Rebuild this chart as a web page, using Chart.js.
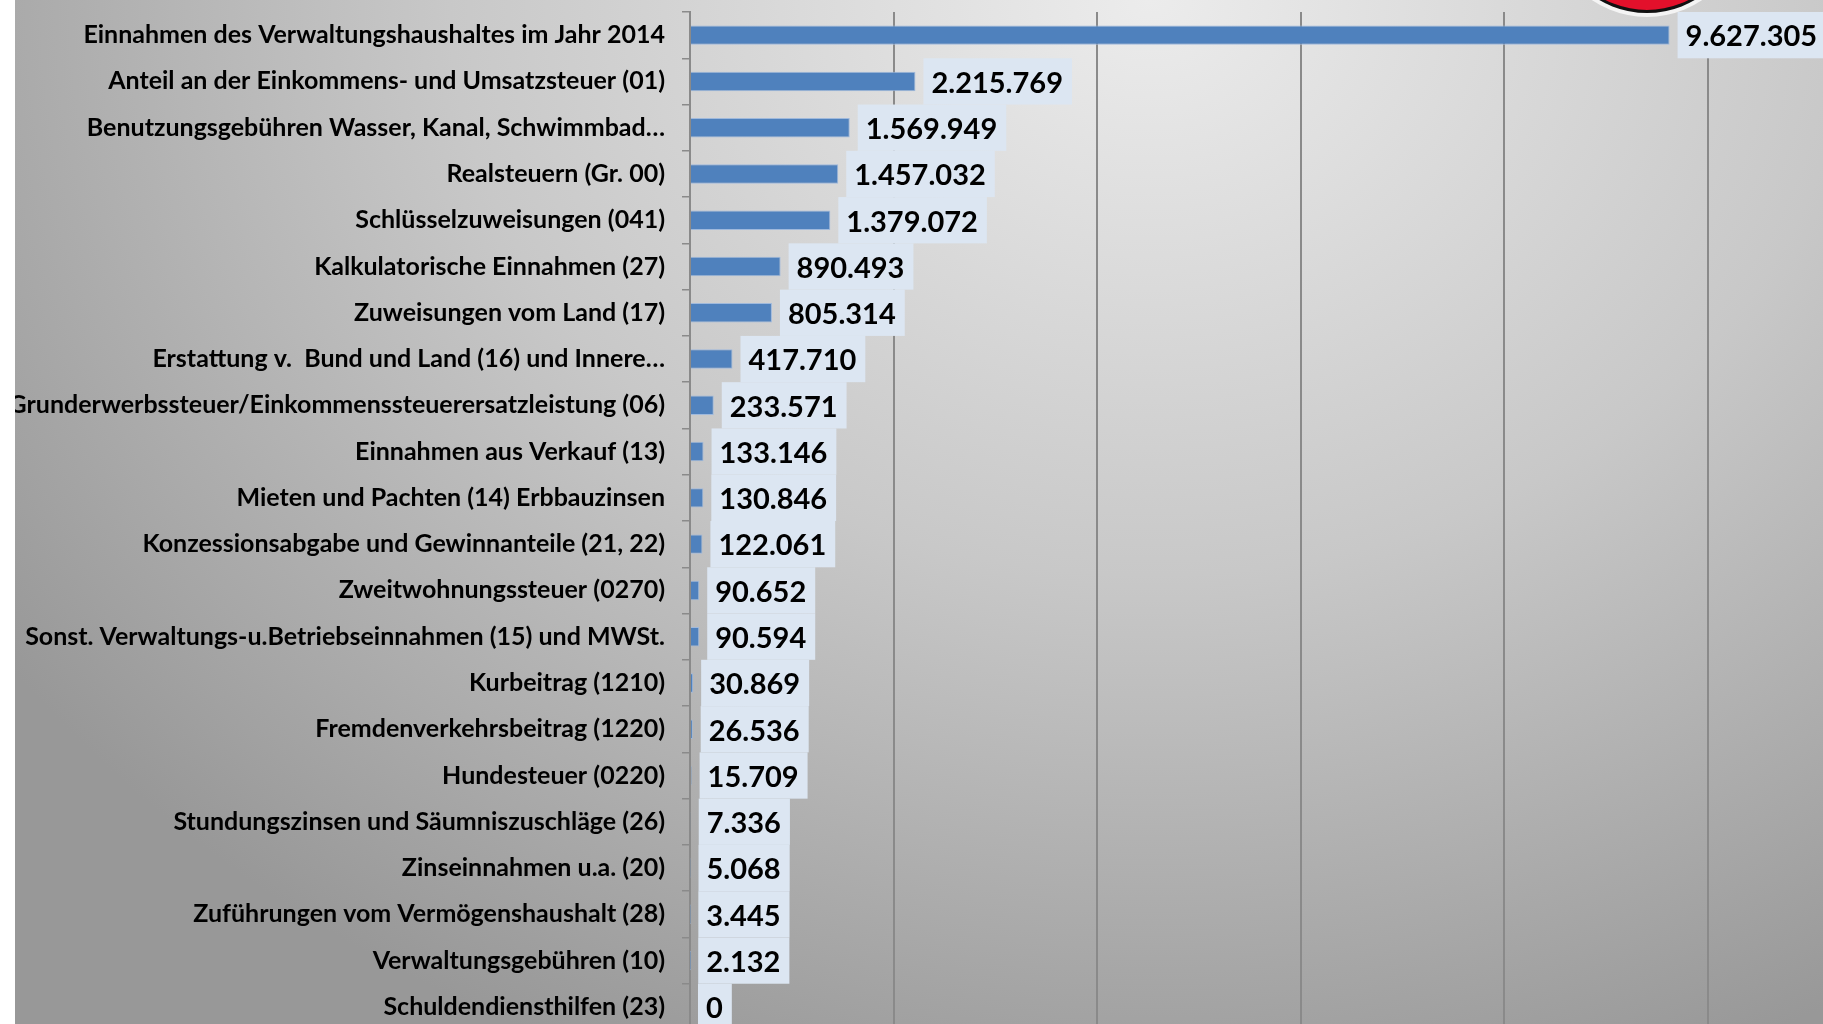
<!DOCTYPE html>
<html>
<head>
<meta charset="utf-8">
<script src="https://cdn.jsdelivr.net/npm/chart.js@4"></script>
<style>
  html, body { margin: 0; padding: 0; background: #fff; overflow: hidden; width: 1823px; height: 1024px; }
  #bg {
    position: absolute; left: 15px; top: 0; width: 1808px; height: 1024px; overflow: hidden;
    background: radial-gradient(ellipse 1400px 1150px at 1135px 0px, #ececec 0%, #c8c8c8 50%, #989898 100%);
  }
  #wrap { position: absolute; left: 0; top: 0; width: 2000px; height: 1100px; }
  #logo {
    position: absolute; left: 1553px; top: -175px; width: 182px; height: 182px; border-radius: 50%;
    background: #e3102b; border: 3px solid #111; box-shadow: 0 0 0 4px #f4f4f4; z-index: 5;
  }
</style>
</head>
<body>
<div id="bg">
  <div id="wrap"><canvas id="chart" width="2000" height="1100"></canvas></div>
</div>
<div id="logo"></div>
<script>
const categories = [
  "Einnahmen des Verwaltungshaushaltes im Jahr 2014",
  "Anteil an der Einkommens- und Umsatzsteuer (01)",
  "Benutzungsgebühren Wasser, Kanal, Schwimmbad…",
  "Realsteuern (Gr. 00)",
  "Schlüsselzuweisungen (041)",
  "Kalkulatorische Einnahmen (27)",
  "Zuweisungen vom Land (17)",
  "Erstattung v.  Bund und Land (16) und Innere…",
  "Grunderwerbssteuer/Einkommenssteuerersatzleistung (06)",
  "Einnahmen aus Verkauf (13)",
  "Mieten und Pachten (14) Erbbauzinsen",
  "Konzessionsabgabe und Gewinnanteile (21, 22)",
  "Zweitwohnungssteuer (0270)",
  "Sonst. Verwaltungs-u.Betriebseinnahmen (15) und MWSt.",
  "Kurbeitrag (1210)",
  "Fremdenverkehrsbeitrag (1220)",
  "Hundesteuer (0220)",
  "Stundungszinsen und Säumniszuschläge (26)",
  "Zinseinnahmen u.a. (20)",
  "Zuführungen vom Vermögenshaushalt (28)",
  "Verwaltungsgebühren (10)",
  "Schuldendiensthilfen (23)",
];
const values = [
  9627305, 2215769, 1569949, 1457032, 1379072, 890493, 805314, 417710,
  233571, 133146, 130846, 122061, 90652, 90594, 30869, 26536, 15709,
  7336, 5068, 3445, 2132, 0,
];

const fmt = (n) => String(n).replace(/\B(?=(\d{3})+(?!\d))/g, ".");

// value boxes to the right of each bar
const valueLabels = {
  id: "valueLabels",
  afterDatasetsDraw(chart) {
    const { ctx } = chart;
    const yScale = chart.scales.y;
    const band = yScale.height / categories.length;
    const meta = chart.getDatasetMeta(0);
    ctx.save();
    ctx.font = "bold 29px Lato";
    ctx.textBaseline = "middle";
    meta.data.forEach((bar, i) => {
      const text = fmt(values[i]);
      const w = ctx.measureText(text).width;
      const x0 = bar.x + 8;
      const top = bar.y - band / 2;
      ctx.fillStyle = "#dce6f2";
      ctx.fillRect(x0, top, w + 17, band);
      ctx.fillStyle = "#000";
      ctx.fillText(text, x0 + 8, bar.y + 2);
    });
    ctx.restore();
  },
};

new Chart(document.getElementById("chart"), {
  type: "bar",
  data: {
    labels: categories,
    datasets: [
      {
        data: values,
        backgroundColor: "#4f81bd",
        borderColor: "#9fb9dc",
        borderWidth: 1,
        barPercentage: 0.42,
        categoryPercentage: 1,
      },
    ],
  },
  options: {
    indexAxis: "y",
    responsive: false,
    animation: false,
    layout: { padding: { top: 12, bottom: 70, right: 104, left: 0 } },
    plugins: { legend: { display: false }, tooltip: { enabled: false } },
    scales: {
      x: {
        min: 0,
        max: 12000000,
        ticks: { display: false, stepSize: 2000000 },
        grid: { color: "#8a8a8a", lineWidth: 2, drawTicks: false },
        border: { display: false },
      },
      y: {
        afterFit: (scale) => {
          scale.width = 675;
          scale.paddingTop = 0;
          scale.paddingBottom = 0;
        },
        grid: { drawOnChartArea: false, offset: true, tickLength: 8, color: "#8a8a8a", lineWidth: 1.5 },
        border: { color: "#8a8a8a", width: 2 },
        ticks: { color: "#000", padding: 17, autoSkip: false, font: { family: "Lato", weight: "bold", size: 25 } },
      },
    },
  },
  plugins: [valueLabels],
});
</script>
</body>
</html>
